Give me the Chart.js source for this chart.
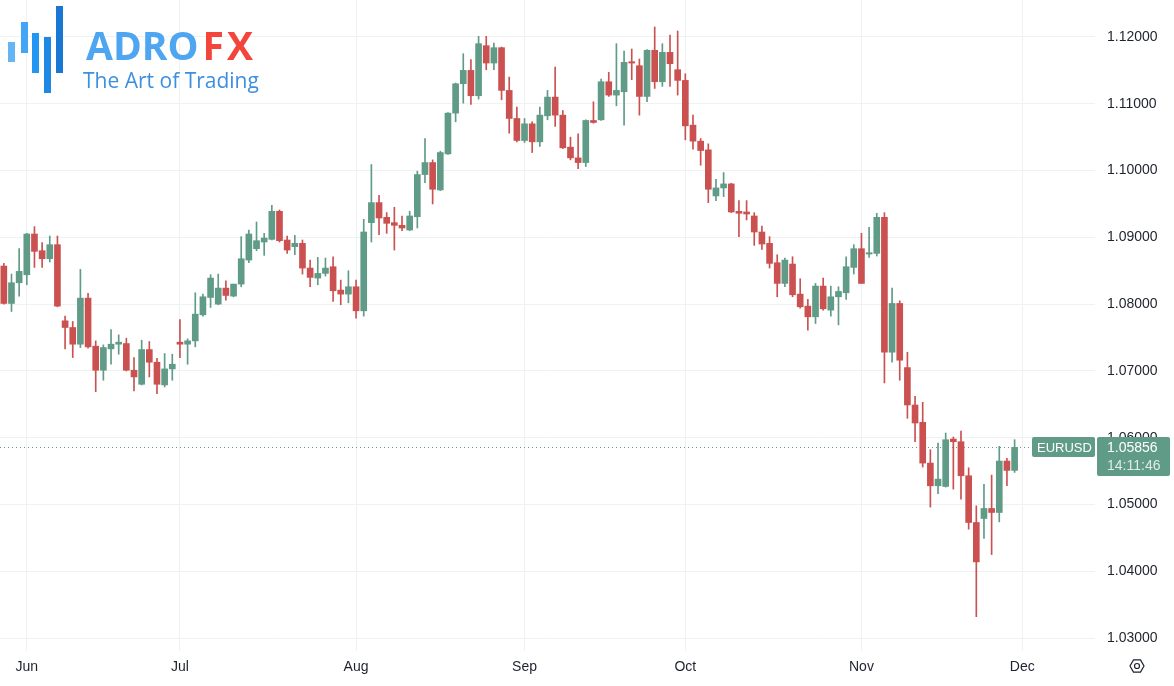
<!doctype html>
<html lang="en">
<head>
  <meta charset="utf-8">
  <title>EURUSD daily</title>
  <script src="https://cdn.jsdelivr.net/npm/chart.js@4.4.0/dist/chart.umd.min.js"></script>
  <style>
    html, body { margin: 0; padding: 0; background: #fff; }
    #wrap { position: relative; width: 1174px; height: 686px; overflow: hidden; }
    #logo { position: absolute; left: 0; top: 0; pointer-events: none; }
    #logo .bar { position: absolute; width: 7px; }
    #brand { position: absolute; left: 86px; top: 25px; font: 700 39px/1 "Open Sans", sans-serif; color: #4ea6f1; white-space: nowrap; }
    #brand .fx { color: #f2453b; margin-left: 4px; letter-spacing: 3px; }
    #tag { position: absolute; left: 83px; top: 70px; font: 400 21px/1 "Open Sans", sans-serif; color: #3d8fe0; white-space: nowrap; }
  </style>
</head>
<body>
<div id="wrap">
  <canvas id="chart" width="1174" height="686"></canvas>
  <div id="logo">
    <div class="bar" style="left:8px;top:42px;height:20px;background:#64b5f6"></div>
    <div class="bar" style="left:21px;top:22px;height:31px;background:#42a5f5"></div>
    <div class="bar" style="left:32px;top:33px;height:40px;background:#2196f3"></div>
    <div class="bar" style="left:44px;top:37px;height:56px;background:#1e88e5"></div>
    <div class="bar" style="left:56px;top:6px;height:67px;background:#1976d2"></div>
    <div id="brand"><span>ADRO</span><span class="fx">FX</span></div>
    <div id="tag">The Art of Trading</div>
  </div>
</div>

<script>
  // daily candles, 29 May 2024 .. 29 Nov 2024, plus empty days on the right
  const startDate = '2024-05-29';
  const totalSlots = 143;
  const monthNames = ['Jan', 'Feb', 'Mar', 'Apr', 'May', 'Jun', 'Jul', 'Aug', 'Sep', 'Oct', 'Nov', 'Dec'];
  const yTicks = [1.03, 1.04, 1.05, 1.06, 1.07, 1.08, 1.09, 1.10, 1.11, 1.12];

  const opens = [
    1.0857, 1.0801, 1.0832, 1.0844, 1.0905, 1.0880, 1.0868, 1.0889, 1.0775, 1.0765,
    1.0740, 1.0809, 1.0737, 1.0701, 1.0733, 1.0740, 1.0741, 1.0701, 1.0680, 1.0732,
    1.0713, 1.0679, 1.0703, 1.0743, 1.0740, 1.0745, 1.0784, 1.0810, 1.0800, 1.0824,
    1.0812, 1.0830, 1.0866, 1.0883, 1.0893, 1.0897, 1.0939, 1.0896, 1.0886, 1.0891,
    1.0854, 1.0839, 1.0846, 1.0856, 1.0821, 1.0815, 1.0826, 1.0790, 1.0922, 1.0952,
    1.0930, 1.0922, 1.0918, 1.0911, 1.0931, 1.0994, 1.1012, 1.0971, 1.1025, 1.1086,
    1.1130, 1.1150, 1.1112, 1.1187, 1.1161, 1.1184, 1.1120, 1.1078, 1.1045, 1.1070,
    1.1043, 1.1082, 1.1110, 1.1083, 1.1035, 1.1019, 1.1012, 1.1075, 1.1076, 1.1133,
    1.1113, 1.1118, 1.1163, 1.1157, 1.1111, 1.1180, 1.1133, 1.1177, 1.1151, 1.1135,
    1.1068, 1.1044, 1.1031, 1.0962, 1.0974, 1.0980, 1.0939, 1.0938, 1.0932, 1.0908,
    1.0891, 1.0862, 1.0831, 1.0860, 1.0815, 1.0797, 1.0781, 1.0827, 1.0791, 1.0811,
    1.0817, 1.0855, 1.0883, 1.0875, 1.0876, 1.0930, 1.0728, 1.0801, 1.0705, 1.0649,
    1.0623, 1.0562, 1.0528, 1.0527, 1.0598, 1.0594, 1.0543, 1.0473, 1.0479, 1.0494,
    1.0488, 1.0565, 1.0551
  ];
  const highs = [
    1.0861, 1.0845, 1.0883, 1.0906, 1.0916, 1.0892, 1.0902, 1.0902, 1.0782, 1.0774,
    1.0852, 1.0816, 1.0745, 1.0739, 1.0762, 1.0754, 1.0749, 1.0720, 1.0746, 1.0744,
    1.0719, 1.0726, 1.0725, 1.0777, 1.0748, 1.0817, 1.0815, 1.0844, 1.0845, 1.0835,
    1.0830, 1.0901, 1.0911, 1.0923, 1.0906, 1.0948, 1.0941, 1.0902, 1.0903, 1.0896,
    1.0866, 1.0870, 1.0869, 1.0871, 1.0836, 1.0850, 1.0836, 1.0927, 1.1009, 1.0963,
    1.0937, 1.0945, 1.0932, 1.0939, 1.0999, 1.1048, 1.1016, 1.1029, 1.1087, 1.1131,
    1.1175, 1.1166, 1.1201, 1.1201, 1.1191, 1.1185, 1.1140, 1.1095, 1.1078, 1.1073,
    1.1095, 1.1120, 1.1155, 1.1090, 1.1050, 1.1055, 1.1076, 1.1103, 1.1137, 1.1147,
    1.1190, 1.1179, 1.1182, 1.1167, 1.1181, 1.1215, 1.1190, 1.1203, 1.1209, 1.1145,
    1.1083, 1.1048, 1.1040, 1.0987, 1.0997, 1.0981, 1.0955, 1.0955, 1.0937, 1.0917,
    1.0901, 1.0874, 1.0869, 1.0871, 1.0838, 1.0807, 1.0831, 1.0839, 1.0827, 1.0826,
    1.0871, 1.0889, 1.0906, 1.0915, 1.0936, 1.0937, 1.0824, 1.0805, 1.0728, 1.0662,
    1.0653, 1.0582, 1.0592, 1.0607, 1.0601, 1.0610, 1.0555, 1.0498, 1.0530, 1.0544,
    1.0587, 1.0569, 1.0597
  ];
  const lows = [
    1.0800, 1.0789, 1.0812, 1.0829, 1.0855, 1.0855, 1.0863, 1.0796, 1.0733, 1.0720,
    1.0735, 1.0734, 1.0669, 1.0686, 1.0710, 1.0725, 1.0700, 1.0670, 1.0679, 1.0691,
    1.0666, 1.0676, 1.0686, 1.0720, 1.0710, 1.0736, 1.0782, 1.0795, 1.0799, 1.0806,
    1.0811, 1.0826, 1.0862, 1.0880, 1.0873, 1.0896, 1.0893, 1.0876, 1.0874, 1.0845,
    1.0826, 1.0829, 1.0842, 1.0804, 1.0799, 1.0802, 1.0779, 1.0782, 1.0893, 1.0904,
    1.0906, 1.0881, 1.0910, 1.0910, 1.0914, 1.0982, 1.0950, 1.0970, 1.1024, 1.1073,
    1.1101, 1.1099, 1.1107, 1.1151, 1.1151, 1.1106, 1.1056, 1.1043, 1.1042, 1.1027,
    1.1036, 1.1076, 1.1066, 1.1033, 1.1016, 1.1003, 1.1006, 1.1071, 1.1075, 1.1111,
    1.1097, 1.1068, 1.1136, 1.1083, 1.1103, 1.1123, 1.1126, 1.1126, 1.1113, 1.1046,
    1.1032, 1.1008, 1.0952, 1.0955, 1.0961, 1.0937, 1.0901, 1.0926, 1.0888, 1.0882,
    1.0854, 1.0811, 1.0826, 1.0811, 1.0794, 1.0761, 1.0771, 1.0791, 1.0782, 1.0769,
    1.0807, 1.0845, 1.0831, 1.0870, 1.0872, 1.0682, 1.0713, 1.0686, 1.0629, 1.0594,
    1.0556, 1.0496, 1.0516, 1.0526, 1.0523, 1.0508, 1.0463, 1.0332, 1.0449, 1.0425,
    1.0474, 1.0528, 1.0548
  ];
  const closes = [
    1.0801, 1.0832, 1.0849, 1.0905, 1.0879, 1.0868, 1.0889, 1.0797, 1.0765, 1.0740,
    1.0809, 1.0736, 1.0701, 1.0735, 1.0740, 1.0743, 1.0701, 1.0691, 1.0732, 1.0713,
    1.0680, 1.0703, 1.0710, 1.0740, 1.0745, 1.0785, 1.0811, 1.0839, 1.0824, 1.0813,
    1.0830, 1.0868, 1.0905, 1.0895, 1.0899, 1.0939, 1.0895, 1.0881, 1.0891, 1.0854,
    1.0840, 1.0846, 1.0854, 1.0820, 1.0815, 1.0826, 1.0790, 1.0908, 1.0952, 1.0929,
    1.0921, 1.0918, 1.0914, 1.0932, 1.0994, 1.1012, 1.0972, 1.1027, 1.1086, 1.1130,
    1.1150, 1.1112, 1.1190, 1.1161, 1.1184, 1.1120, 1.1078, 1.1045, 1.1070, 1.1043,
    1.1083, 1.1110, 1.1083, 1.1034, 1.1019, 1.1012, 1.1075, 1.1072, 1.1133, 1.1113,
    1.1120, 1.1162, 1.1161, 1.1111, 1.1180, 1.1133, 1.1177, 1.1160, 1.1135, 1.1067,
    1.1044, 1.1030, 1.0972, 1.0974, 1.0980, 1.0938, 1.0936, 1.0935, 1.0908, 1.0890,
    1.0861, 1.0831, 1.0866, 1.0814, 1.0796, 1.0781, 1.0827, 1.0793, 1.0811, 1.0819,
    1.0856, 1.0883, 1.0831, 1.0877, 1.0930, 1.0728, 1.0801, 1.0716, 1.0649, 1.0622,
    1.0562, 1.0528, 1.0538, 1.0597, 1.0594, 1.0543, 1.0473, 1.0414, 1.0494, 1.0488,
    1.0565, 1.0551, 1.05856
  ];

  const symbol = 'EURUSD';
  const lastPrice = 1.05856;
  const lastTime = '14:11:46';

  const upColor = '#5f9b86';
  const downColor = '#cb5151';
  const gridColor = '#f0f1f3';
  const textColor = '#1e222d';
  const axisFont = { family: '"Liberation Sans", Arial, sans-serif', size: 14 };

  // weekdays only
  const dates = [];
  let d = new Date(startDate + 'T00:00:00Z');
  while (dates.length < totalSlots) {
    const wd = d.getUTCDay();
    if (wd !== 0 && wd !== 6) dates.push(d.toISOString().slice(0, 10));
    d.setUTCDate(d.getUTCDate() + 1);
  }
  function isMonthStart(i) {
    return i > 0 && dates[i].slice(5, 7) !== dates[i - 1].slice(5, 7);
  }

  const colors = opens.map((o, i) => closes[i] >= o ? upColor : downColor);
  const wicks = lows.map((l, i) => [l, highs[i]]);
  const bodies = opens.map((o, i) => [o, closes[i]]);

  // no extra label padding, the plot runs to the canvas edges
  function noPad(s) {
    s.paddingTop = 0; s.paddingBottom = 0; s.paddingLeft = 0; s.paddingRight = 0;
  }

  const priceTag = {
    id: 'priceTag',
    beforeDatasetsDraw(chart) {
      const ctx = chart.ctx, area = chart.chartArea;
      const y = Math.round(chart.scales.y.getPixelForValue(lastPrice)) + 0.5;
      ctx.save();
      ctx.strokeStyle = upColor;
      ctx.lineWidth = 1;
      ctx.setLineDash([1, 3]);
      ctx.beginPath();
      ctx.moveTo(area.left, y);
      ctx.lineTo(area.right - 63, y);
      ctx.stroke();
      ctx.restore();
    },
    afterDraw(chart) {
      const ctx = chart.ctx, area = chart.chartArea;
      const y = Math.round(chart.scales.y.getPixelForValue(lastPrice));
      ctx.save();
      ctx.fillStyle = upColor;
      ctx.beginPath();
      ctx.roundRect(area.right - 63, y - 10, 63, 20, 2);
      ctx.fill();
      ctx.beginPath();
      ctx.roundRect(area.right + 2, y - 10, 73, 39, 2);
      ctx.fill();
      ctx.textBaseline = 'middle';
      ctx.textAlign = 'left';
      ctx.fillStyle = '#ffffff';
      ctx.font = '13px "Liberation Sans", Arial, sans-serif';
      ctx.fillText(symbol, area.right - 58, y + 1);
      ctx.font = '14px "Liberation Sans", Arial, sans-serif';
      ctx.fillText(lastPrice.toFixed(5), area.right + 12, y + 1);
      ctx.fillStyle = 'rgba(255,255,255,0.8)';
      ctx.fillText(lastTime, area.right + 12, y + 19);

      // settings icon in the corner
      const cx = 1137, cy = 666, r = 7;
      ctx.strokeStyle = textColor;
      ctx.lineWidth = 1.2;
      ctx.beginPath();
      for (let k = 0; k < 6; k++) {
        const a = Math.PI / 3 * k;
        const px = cx + r * Math.cos(a), py = cy + r * Math.sin(a);
        if (k === 0) ctx.moveTo(px, py); else ctx.lineTo(px, py);
      }
      ctx.closePath();
      ctx.stroke();
      ctx.beginPath();
      ctx.arc(cx, cy, 2.5, 0, Math.PI * 2);
      ctx.stroke();
      ctx.restore();
    }
  };

  new Chart(document.getElementById('chart'), {
    type: 'bar',
    data: {
      labels: dates,
      datasets: [
        { data: wicks, backgroundColor: colors, barThickness: 1, grouped: false, order: 2 },
        { data: bodies, backgroundColor: colors, barThickness: 6, grouped: false, minBarLength: 1, order: 1 }
      ]
    },
    options: {
      responsive: false,
      animation: false,
      layout: { padding: 0 },
      plugins: { legend: { display: false }, tooltip: { enabled: false } },
      scales: {
        x: {
          type: 'category',
          offset: true,
          grid: { color: gridColor, offset: false, drawTicks: false },
          border: { display: false },
          ticks: {
            autoSkip: false, maxRotation: 0, padding: 8, color: textColor, font: axisFont,
            callback: (v) => monthNames[+dates[v].slice(5, 7) - 1]
          },
          afterBuildTicks: (s) => { s.ticks = s.ticks.filter(t => isMonthStart(t.value)); },
          afterFit: (s) => { s.height = 35; noPad(s); }
        },
        y: {
          position: 'right',
          min: 1.02806,
          max: 1.12554,
          grid: { color: gridColor, drawTicks: false },
          border: { display: false },
          ticks: { padding: 12, color: textColor, font: axisFont, callback: (v) => v.toFixed(5) },
          afterBuildTicks: (s) => { s.ticks = yTicks.map(v => ({ value: v })); },
          afterFit: (s) => { s.width = 79; noPad(s); }
        }
      }
    },
    plugins: [priceTag]
  });
</script>
</body>
</html>
